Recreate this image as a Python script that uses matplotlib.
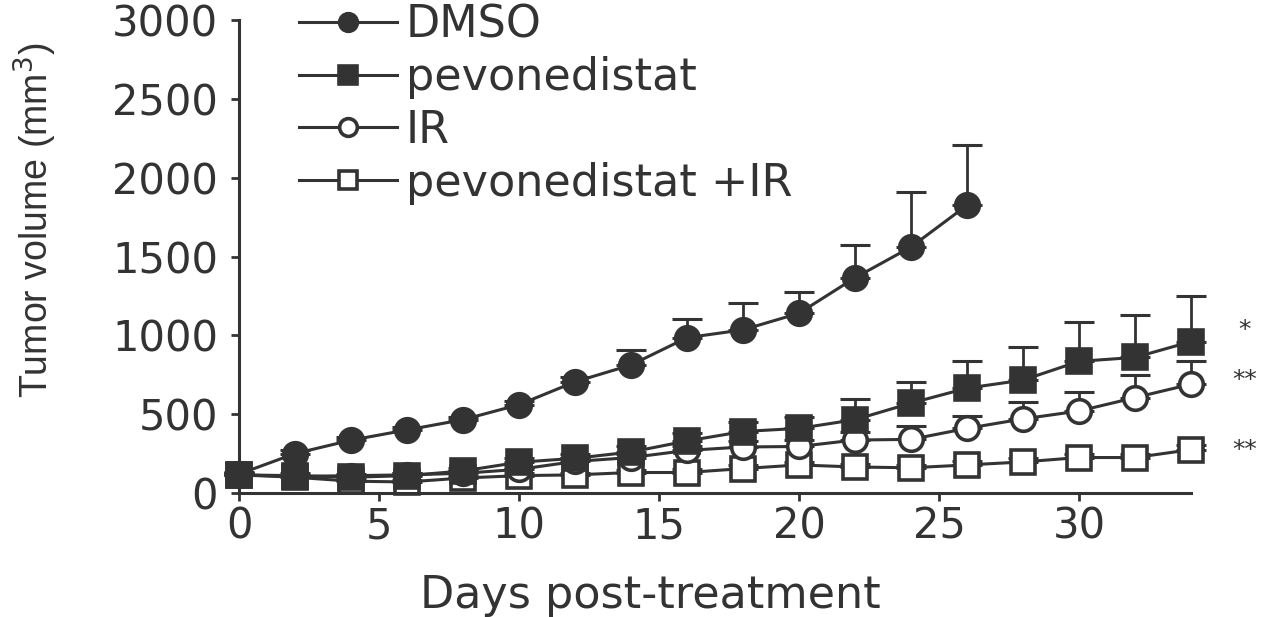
import matplotlib
matplotlib.use("Agg")
import matplotlib.pyplot as plt
import numpy as np

plt.rcParams['font.family'] = ['DejaVu Sans']

days_all = [0, 2, 4, 6, 8, 10, 12, 14, 16, 18, 20, 22, 24, 26, 28, 30, 32, 34]
days_dmso = [0, 2, 4, 6, 8, 10, 12, 14, 16, 18, 20, 22, 24, 26]

dmso = [120, 250, 335, 400, 465, 560, 705, 812, 985, 1035, 1140, 1365, 1560, 1825]
dmso_err = [15, 20, 20, 20, 20, 25, 30, 95, 120, 170, 135, 210, 350, 380]

pevo = [115, 110, 100, 110, 140, 195, 220, 260, 330, 390, 410, 465, 570, 665, 716, 835, 860, 960]
pevo_err = [15, 15, 15, 15, 20, 25, 30, 40, 50, 60, 70, 130, 135, 175, 210, 250, 270, 290]

ir = [115, 105, 110, 115, 125, 150, 200, 225, 270, 292, 295, 336, 340, 410, 470, 520, 605, 690]
ir_err = [10, 10, 10, 10, 15, 15, 20, 25, 30, 35, 40, 50, 85, 80, 105, 120, 145, 150]

combo = [115, 100, 75, 70, 95, 110, 115, 130, 130, 155, 178, 165, 160, 178, 197, 225, 225, 275]
combo_err = [10, 10, 10, 10, 10, 15, 15, 15, 20, 20, 20, 20, 20, 25, 25, 25, 25, 30]

labels = ["DMSO", "pevonedistat", "IR", "pevonedistat +IR"]
sig_labels = ["*", "**", "**"]
sig_y = [1034, 717, 273]

xticks = [0, 5, 10, 15, 20, 25, 30]
yticks = [0, 500, 1000, 1500, 2000, 2500, 3000]

C = '#333333'
fig = plt.figure(figsize=(12.72, 6.17), dpi=100)
ax = fig.add_axes([239/1272, 1-493/617, (1191-239)/1272, (493-20)/617])

ms = 17
series = [
    (days_dmso, dmso, dmso_err, 'o', C, 4),
    (days_all, pevo, pevo_err, 's', C, 5),
    (days_all, ir, ir_err, 'o', 'white', 3),
    (days_all, combo, combo_err, 's', 'white', 2),
]
handles = []
for (x, y, e, m, fc, z) in series:
    x = np.array(x); y = np.array(y); e = np.array(e)
    eb = ax.errorbar(x, y, yerr=[np.zeros_like(e), e], fmt='none', ecolor=C,
                     elinewidth=2, capsize=11, capthick=2.2, zorder=z, clip_on=False)
    for art in eb.get_children():
        art.set_clip_on(False)
    h, = ax.plot(x, y, color=C, lw=2.2, marker=m, ms=ms, mfc=fc, mec=C,
                 mew=2.6, zorder=z + 0.5, clip_on=False)
    handles.append(h)

ax.set_xlim(0, 34)
ax.set_ylim(0, 3000)
ax.set_xticks(xticks)
ax.set_yticks(yticks)
for s in ['top', 'right']:
    ax.spines[s].set_visible(False)
for s in ['left', 'bottom']:
    ax.spines[s].set_linewidth(2.2)
    ax.spines[s].set_color(C)
ax.tick_params(axis='both', direction='out', length=6, width=2, color=C,
               labelcolor=C, labelsize=30)
ax.tick_params(axis='y', pad=9)
ax.tick_params(axis='x', pad=3)

ax.set_ylabel("Tumor volume (mm$^3$)", fontsize=27, color=C, va='center',
              family=['Liberation Sans', 'DejaVu Sans'])
ax.yaxis.set_label_coords(-0.214, 0.577)
ax.set_xlabel("Days post-treatment", fontsize=32, color=C, va='center')
ax.xaxis.set_label_coords(0.432, -0.216)

for t, yy in zip(sig_labels, sig_y):
    ax.text(35.9, yy, t, fontsize=18, color=C, ha='center', va='center')

leg = fig.legend(handles, labels, loc='upper left',
                 bbox_to_anchor=(268/1272, 1.045), frameon=False,
                 fontsize=32, handlelength=2.2, handletextpad=0.2,
                 labelspacing=0.22, markerscale=0.75, borderpad=0.2)
for t in leg.get_texts():
    t.set_color(C)

fig.savefig("out.png", dpi=100)
